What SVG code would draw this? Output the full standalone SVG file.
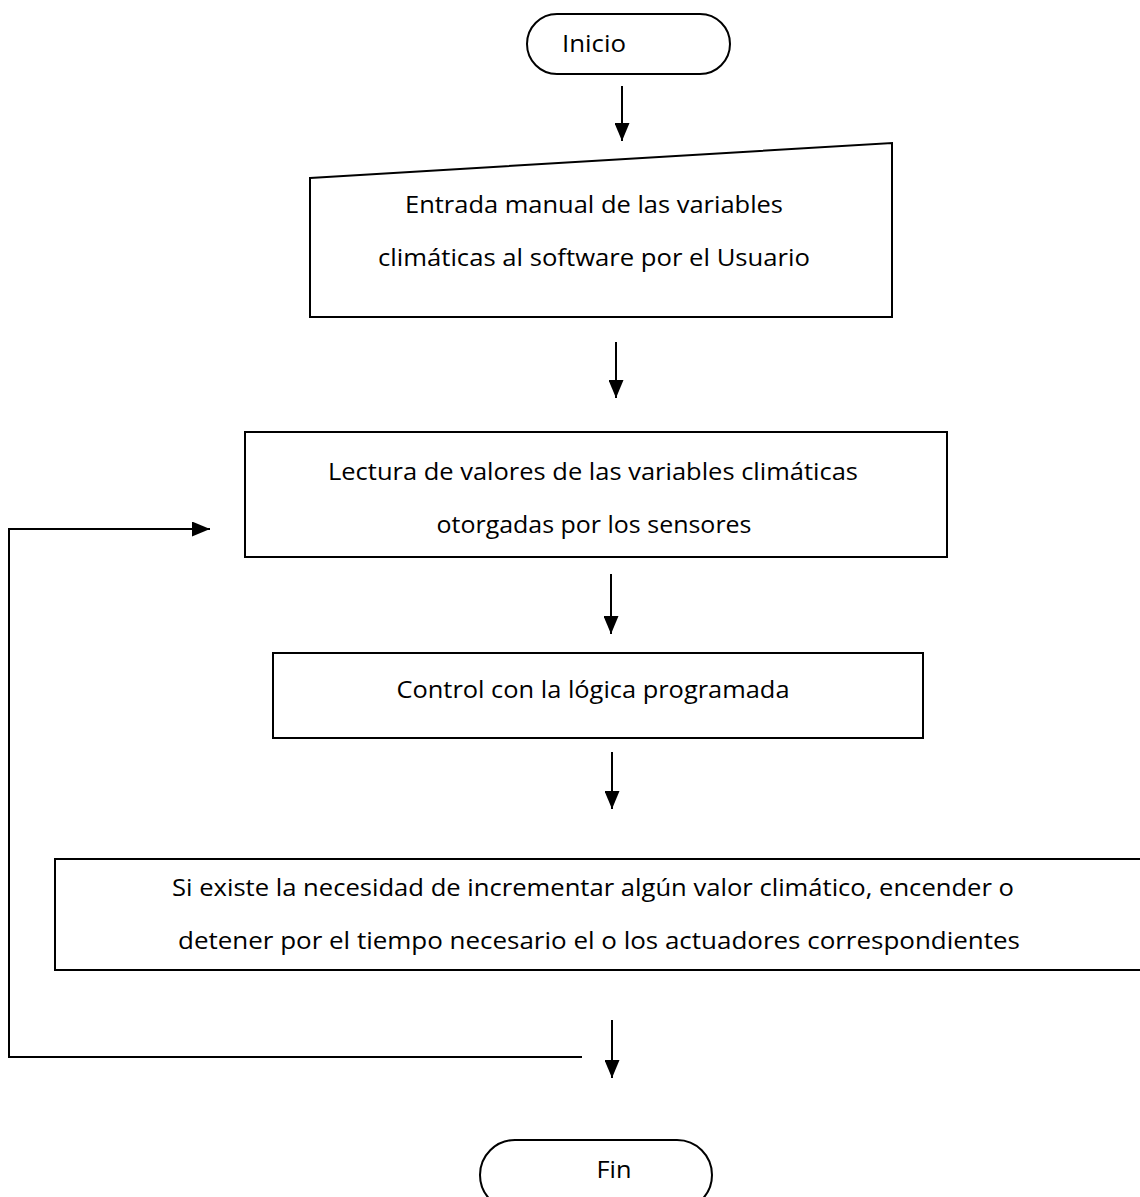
<svg xmlns="http://www.w3.org/2000/svg" width="1140" height="1197" viewBox="0 0 1140 1197">
<style>
.s{fill:#fff;stroke:#000;stroke-width:2}
.c{fill:none;stroke:#000;stroke-width:2}
.t{font-family:"Open Sans","Liberation Sans",sans-serif;font-size:24px;fill:#000;text-anchor:middle}
</style>
<defs>
<marker id="ah" viewBox="0 0 18 15" refX="18" refY="7.5" markerWidth="18" markerHeight="15" markerUnits="userSpaceOnUse" orient="auto">
<path d="M0,0 L18,7.5 L0,15 Z" fill="#000"/>
</marker>
</defs>
<rect width="1140" height="1197" fill="#fff"/>
<g id="inicio">
<rect class="s" x="527" y="14" width="203" height="60" rx="30" ry="30"/>
<text class="t" x="594" y="52" textLength="64" lengthAdjust="spacingAndGlyphs">Inicio</text>
</g>
<g id="entrada">
<path class="s" d="M310,178 L892,143 L892,317 L310,317 Z"/>
<text class="t" x="594" y="213" textLength="378" lengthAdjust="spacingAndGlyphs">Entrada manual de las variables</text>
<text class="t" x="594" y="266" textLength="432" lengthAdjust="spacingAndGlyphs">climáticas al software por el Usuario</text>
</g>
<g id="lectura">
<rect class="s" x="245" y="432" width="702" height="125"/>
<text class="t" x="593" y="480" textLength="530" lengthAdjust="spacingAndGlyphs">Lectura de valores de las variables climáticas</text>
<text class="t" x="594" y="533" textLength="315" lengthAdjust="spacingAndGlyphs">otorgadas por los sensores</text>
</g>
<g id="control">
<rect class="s" x="273" y="653" width="650" height="85"/>
<text class="t" x="593" y="698" textLength="393" lengthAdjust="spacingAndGlyphs">Control con la lógica programada</text>
</g>
<g id="actuadores">
<rect class="s" x="55" y="859" width="1100" height="111"/>
<text class="t" x="593" y="896" textLength="842" lengthAdjust="spacingAndGlyphs">Si existe la necesidad de incrementar algún valor climático, encender o</text>
<text class="t" x="599" y="949" textLength="842" lengthAdjust="spacingAndGlyphs">detener por el tiempo necesario el o los actuadores correspondientes</text>
</g>
<g id="fin">
<rect class="s" x="480" y="1140" width="232" height="70" rx="35" ry="35"/>
<text class="t" x="614" y="1178" textLength="35" lengthAdjust="spacingAndGlyphs">Fin</text>
</g>
<g id="connectors">
<line class="c" x1="622" y1="86" x2="622" y2="141" marker-end="url(#ah)"/>
<line class="c" x1="616" y1="342" x2="616" y2="398" marker-end="url(#ah)"/>
<line class="c" x1="611" y1="574" x2="611" y2="634" marker-end="url(#ah)"/>
<line class="c" x1="612" y1="752" x2="612" y2="809" marker-end="url(#ah)"/>
<line class="c" x1="612" y1="1020" x2="612" y2="1078" marker-end="url(#ah)"/>
<path class="c" d="M582,1057 L9,1057 L9,529 L210,529" marker-end="url(#ah)"/>
</g>
</svg>
